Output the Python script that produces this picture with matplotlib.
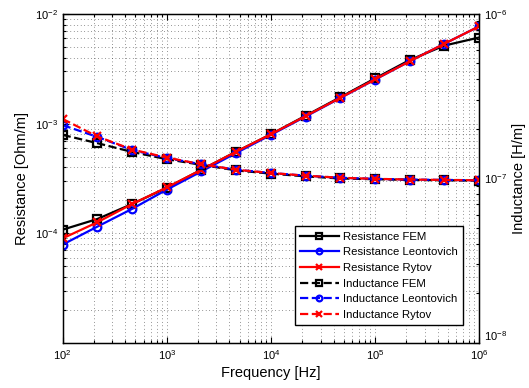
import matplotlib
matplotlib.use("Agg")
import matplotlib.pyplot as plt
from matplotlib.ticker import LogLocator, NullFormatter

plt.rcParams["font.family"] = ["Liberation Sans", "DejaVu Sans"]

freq = [100, 215, 464, 1000, 2154, 4642, 1e4, 21544, 46416, 1e5, 215443, 464159, 1e6]

r_fem = [1.08e-4, 1.35e-4, 1.85e-4, 2.6e-4, 3.8e-4, 5.55e-4, 8.0e-4,
         1.18e-3, 1.74e-3, 2.58e-3, 3.8e-3, 5.15e-3, 6.1e-3]
r_leon = [7.9e-5, 1.15e-4, 1.67e-4, 2.5e-4, 3.67e-4, 5.4e-4, 7.9e-4,
          1.16e-3, 1.71e-3, 2.52e-3, 3.7e-3, 5.35e-3, 7.7e-3]
r_rytov = [9.0e-5, 1.26e-4, 1.85e-4, 2.62e-4, 3.8e-4, 5.55e-4, 8.0e-4,
           1.17e-3, 1.72e-3, 2.53e-3, 3.7e-3, 5.35e-3, 7.7e-3]

l_fem = [1.84e-7, 1.64e-7, 1.45e-7, 1.31e-7, 1.21e-7, 1.12e-7, 1.07e-7,
         1.03e-7, 1.0e-7, 9.9e-8, 9.8e-8, 9.75e-8, 9.7e-8]
l_leon = [2.11e-7, 1.79e-7, 1.49e-7, 1.33e-7, 1.22e-7, 1.13e-7, 1.08e-7,
          1.04e-7, 1.01e-7, 9.95e-8, 9.85e-8, 9.8e-8, 9.75e-8]
l_rytov = [2.30e-7, 1.80e-7, 1.50e-7, 1.34e-7, 1.22e-7, 1.13e-7, 1.08e-7,
           1.04e-7, 1.01e-7, 9.95e-8, 9.85e-8, 9.8e-8, 9.75e-8]

fig = plt.figure(figsize=(5.29, 3.88), dpi=100)
ax = fig.add_axes([0.1185, 0.116, 0.787, 0.848])
ax2 = ax.twinx()

lw = 1.6
style = dict(lw=lw, ms=5.5, mew=1.6, mfc="none")
h1, = ax.plot(freq, r_fem, "k-s", label="Resistance FEM", **style)
h2, = ax.plot(freq, r_leon, "b-o", label="Resistance Leontovich", **style)
h3, = ax.plot(freq, r_rytov, "r-x", label="Resistance Rytov", **style)
h4, = ax2.plot(freq, l_fem, "k--s", label="Inductance FEM", **style)
h5, = ax2.plot(freq, l_leon, "b--o", label="Inductance Leontovich", **style)
h6, = ax2.plot(freq, l_rytov, "r--x", label="Inductance Rytov", **style)

for a in (ax, ax2):
    a.set_xscale("log")
    a.set_yscale("log")
    a.set_xlim(1e2, 1e6)
    a.tick_params(which="both", direction="in", labelsize=8, width=0.8)
    a.tick_params(which="major", length=4)
    a.tick_params(which="minor", length=2)

ax.set_ylim(1e-5, 1e-2)
ax2.set_ylim(1e-8, 1e-6)
ax.set_xticks([1e2, 1e3, 1e4, 1e5, 1e6])
ax.set_yticks([1e-4, 1e-3, 1e-2])
ax.yaxis.set_minor_locator(LogLocator(base=10, subs=range(2, 10)))
ax.yaxis.set_minor_formatter(NullFormatter())
ax2.set_yticks([1e-8, 1e-7, 1e-6])
ax2.yaxis.set_minor_formatter(NullFormatter())
ax.tick_params(axis="x", which="both", top=True)

# the bottom right label sits above the corner, as in the original
ax2.get_yticklabels()[0].set_verticalalignment("bottom")

ax.grid(True, which="both", linestyle=(0, (1, 4)), color="0.2", lw=0.5)
for s in ax.spines.values():
    s.set_linewidth(1.0)

ax.set_xlabel("Frequency [Hz]", fontsize=10.5, labelpad=3)
ax.set_ylabel("Resistance [Ohm/m]", fontsize=10.5)
ax2.set_ylabel("Inductance [H/m]", fontsize=10.5)

leg = ax2.legend(handles=[h1, h2, h3, h4, h5, h6], loc="lower left",
                 bbox_to_anchor=(0.544, 0.037), fontsize=8.2, fancybox=False,
                 framealpha=1, edgecolor="k", markerscale=0.75,
                 handlelength=3.4, handletextpad=0.4, labelspacing=0.5,
                 borderpad=0.45)
leg.get_frame().set_linewidth(1.0)

fig.savefig("out.png", dpi=100)
